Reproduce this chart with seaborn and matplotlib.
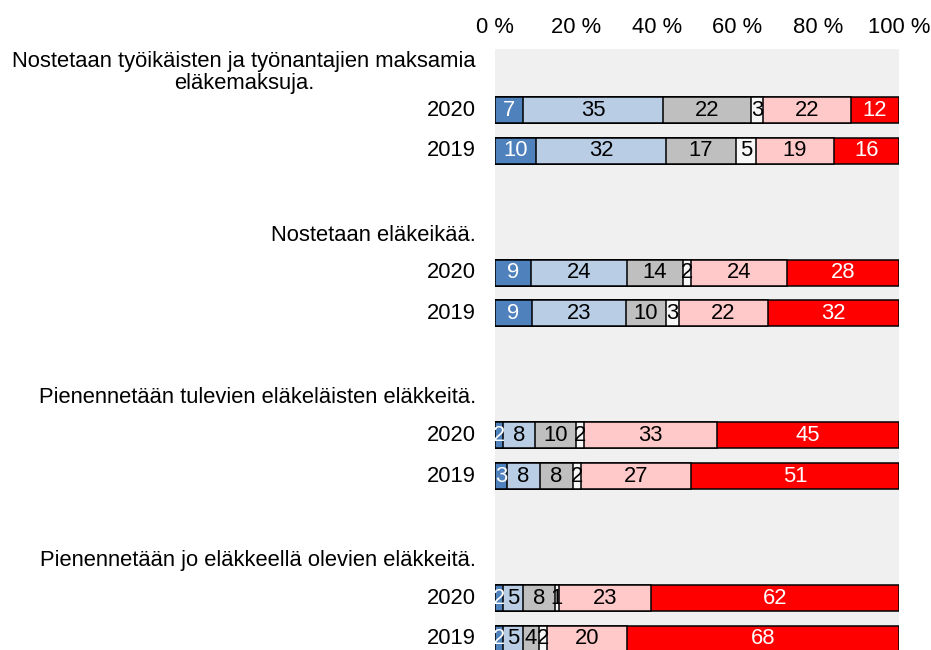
import numpy as np
import pandas as pd
import matplotlib
matplotlib.use("Agg")
import matplotlib.pyplot as plt
import matplotlib.transforms as mtransforms
import seaborn as sns

# kysymykset ja vuodet
questions = [
    "Nostetaan työikäisten ja työnantajien maksamia\neläkemaksuja.",
    "Nostetaan eläkeikää.",
    "Pienennetään tulevien eläkeläisten eläkkeitä.",
    "Pienennetään jo eläkkeellä olevien eläkkeitä.",
]
years = ["2020", "2019"]

# vastausten osuudet (%) kuusi luokkaa, järjestys vasemmalta oikealle
q1_2020 = [7, 35, 22, 3, 22, 12]
q1_2019 = [10, 32, 17, 5, 19, 16]
q2_2020 = [9, 24, 14, 2, 24, 28]
q2_2019 = [9, 23, 10, 3, 22, 32]
q3_2020 = [2, 8, 10, 2, 33, 45]
q3_2019 = [3, 8, 8, 2, 27, 51]
q4_2020 = [2, 5, 8, 1, 23, 62]
q4_2019 = [2, 5, 4, 2, 20, 68]

colors = ["#4f81bd", "#b9cde5", "#bfbfbf", "#f7f7f7", "#ffc9c9", "#ff0000"]
text_colors = ["white", "black", "black", "black", "black", "white"]

rows = [q1_2020, q1_2019, q2_2020, q2_2019, q3_2020, q3_2019, q4_2020, q4_2019]
ypos = [1, 2, 5, 6, 9, 10, 13, 14]
label_pos = [0, 4, 8, 12]

vals = np.array(rows, dtype=float)
shares = vals / vals.sum(axis=1, keepdims=True) * 100
cum = shares.cumsum(axis=1)

df = pd.DataFrame(cum, columns=[f"c{i}" for i in range(6)])
df["y"] = ypos

sns.set_theme(style="white")
plt.rcParams["font.family"] = ["Liberation Sans", "DejaVu Sans"]
plt.rcParams["text.color"] = "black"
plt.rcParams["xtick.color"] = "black"
fs = 15.8

fig = plt.figure(figsize=(9.31, 6.5), dpi=100)
ax = fig.add_axes([495 / 931, 1 - 659 / 650, 404 / 931, 610 / 650])
ax.set_facecolor("#f0f0f0")

# pinotut palkit: kumulatiiviset summat suurimmasta pienimpään
for i in range(5, -1, -1):
    sns.barplot(data=df, x=f"c{i}", y="y", orient="y", native_scale=True,
                color=colors[i], saturation=1, width=0.64,
                edgecolor="black", linewidth=1.1, ax=ax)

for r, y in enumerate(ypos):
    for i in range(6):
        left = cum[r, i] - shares[r, i]
        ax.text(left + shares[r, i] / 2, y, str(rows[r][i]), ha="center",
                va="center", fontsize=fs, color=text_colors[i])

ax.set_xlim(0, 100)
ax.set_ylim(14.5, -0.5)
ax.xaxis.tick_top()
ax.set_xticks(range(0, 101, 20))
ax.set_xticklabels([f"{t} %" for t in range(0, 101, 20)], fontsize=fs,
                   color="black")
ax.tick_params(axis="x", length=0, pad=8)
ax.set_yticks([])
ax.set_xlabel("")
ax.set_ylabel("")
for s in ax.spines.values():
    s.set_visible(False)

trans = mtransforms.blended_transform_factory(ax.transAxes, ax.transData)
for k, y in enumerate(label_pos):
    ax.text(-0.047, y + 0.08, questions[k], transform=trans, ha="right",
            va="center", multialignment="center", fontsize=fs,
            linespacing=1.05, color="black")
    for j, yr in enumerate(years):
        ax.text(-0.047, y + 1 + j, yr, transform=trans, ha="right",
                va="center", fontsize=fs, color="black")

fig.savefig("out.png", dpi=100)
